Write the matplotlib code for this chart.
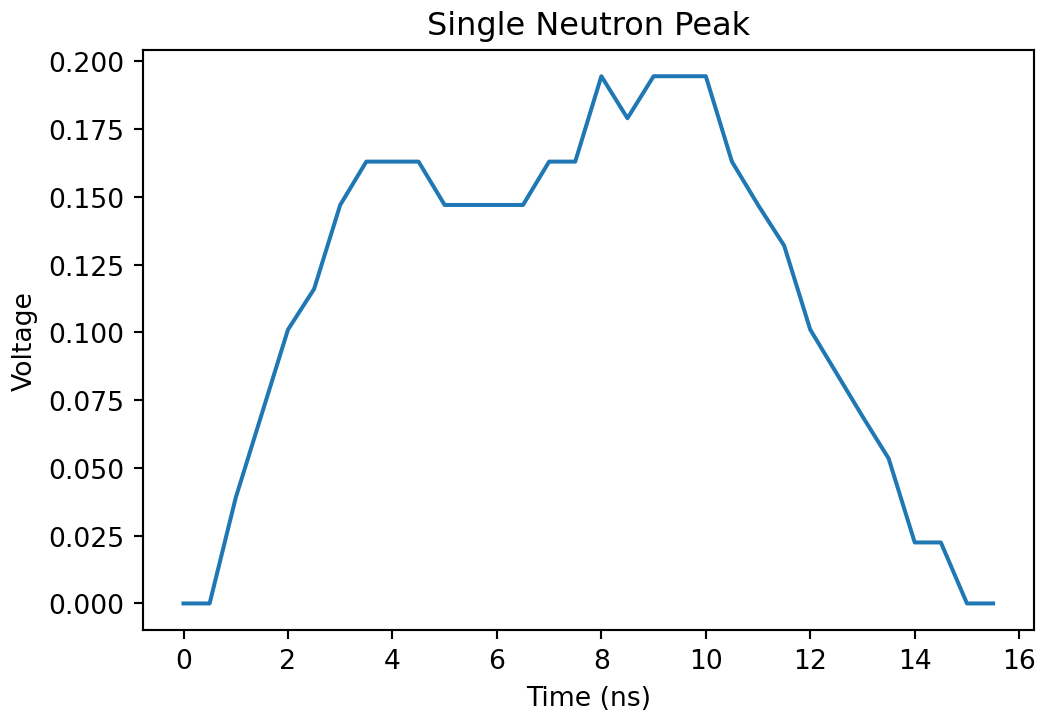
import numpy as np
import matplotlib
matplotlib.use("Agg")
import matplotlib.pyplot as plt

# time axis in ns, sampled every 0.5 ns
time_ns = np.arange(0, 16, 0.5)
voltage = [0.0, 0.0, 0.039, 0.070, 0.101, 0.116, 0.147, 0.163,
           0.163, 0.163, 0.147, 0.147, 0.147, 0.147, 0.163, 0.163,
           0.1945, 0.179, 0.1945, 0.1945, 0.1945, 0.163, 0.147, 0.132,
           0.101, 0.085, 0.069, 0.0535, 0.0225, 0.0225, 0.0, 0.0]

fig = plt.figure(figsize=(5.4375, 3.729), dpi=192)
ax = fig.add_axes([0.137, 0.119, 0.853, 0.810])

ax.plot(time_ns, voltage, color="#1f77b4", linewidth=1.5)
ax.set_title("Single Neutron Peak")
ax.set_xlabel("Time (ns)")
ax.set_ylabel("Voltage")
ax.set_xticks(np.arange(0, 17, 2))

fig.savefig("out.png", dpi=192)
